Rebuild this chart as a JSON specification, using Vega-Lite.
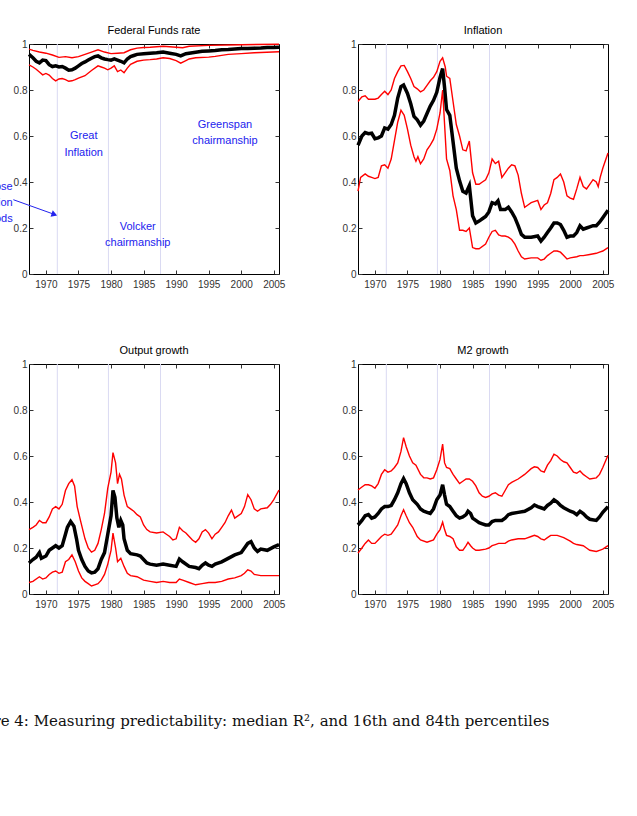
{
"$schema":"https://vega.github.io/schema/vega-lite/v6.json",
"autosize":{"type":"none"},
"padding":{"left":29,"top":44,"right":608,"bottom":772},
"background":"white",
"title":{"text":"Figure 4: Measuring predictability: median R², and 16th and 84th percentiles","orient":"bottom","anchor":"start","frame":"group","font":"DejaVu Serif","fontSize":15,"fontWeight":"normal","color":"#111","dx":-70,"offset":116,"baseline":"alphabetic"},
"datasets":{
"ffr":[
{"s":"m","x":1967.4,"y":0.955},{"s":"m","x":1968,"y":0.94},{"s":"m","x":1968.5,"y":0.925},{"s":"m","x":1969,"y":0.918},{"s":"m","x":1969.5,"y":0.93},{"s":"m","x":1970,"y":0.928},{"s":"m","x":1970.5,"y":0.91},{"s":"m","x":1971,"y":0.902},{"s":"m","x":1971.5,"y":0.905},{"s":"m","x":1972,"y":0.9},{"s":"m","x":1972.5,"y":0.902},{"s":"m","x":1973,"y":0.895},{"s":"m","x":1973.5,"y":0.886},{"s":"m","x":1974,"y":0.888},{"s":"m","x":1974.5,"y":0.895},{"s":"m","x":1975,"y":0.905},{"s":"m","x":1975.5,"y":0.915},{"s":"m","x":1976,"y":0.922},{"s":"m","x":1976.5,"y":0.93},{"s":"m","x":1977,"y":0.938},{"s":"m","x":1977.5,"y":0.945},{"s":"m","x":1978,"y":0.948},{"s":"m","x":1978.5,"y":0.94},{"s":"m","x":1979,"y":0.935},{"s":"m","x":1979.5,"y":0.932},{"s":"m","x":1980,"y":0.93},{"s":"m","x":1980.5,"y":0.935},{"s":"m","x":1981,"y":0.93},{"s":"m","x":1981.5,"y":0.925},{"s":"m","x":1982,"y":0.918},{"s":"m","x":1982.5,"y":0.935},{"s":"m","x":1983,"y":0.945},{"s":"m","x":1983.5,"y":0.95},{"s":"m","x":1984,"y":0.955},{"s":"m","x":1985,"y":0.958},{"s":"m","x":1986,"y":0.96},{"s":"m","x":1987,"y":0.962},{"s":"m","x":1988,"y":0.965},{"s":"m","x":1989,"y":0.96},{"s":"m","x":1990,"y":0.955},{"s":"m","x":1990.7,"y":0.948},{"s":"m","x":1991.5,"y":0.958},{"s":"m","x":1992.5,"y":0.962},{"s":"m","x":1994,"y":0.968},{"s":"m","x":1995,"y":0.97},{"s":"m","x":1996,"y":0.972},{"s":"m","x":1997,"y":0.975},{"s":"m","x":1998,"y":0.976},{"s":"m","x":1999,"y":0.978},{"s":"m","x":2000,"y":0.98},{"s":"m","x":2001,"y":0.98},{"s":"m","x":2002,"y":0.982},{"s":"m","x":2003,"y":0.983},{"s":"m","x":2004,"y":0.985},{"s":"m","x":2005,"y":0.985},{"s":"m","x":2005.8,"y":0.986},
{"s":"h","x":1967.4,"y":0.978},{"s":"h","x":1968,"y":0.972},{"s":"h","x":1969,"y":0.965},{"s":"h","x":1970,"y":0.96},{"s":"h","x":1971,"y":0.952},{"s":"h","x":1972,"y":0.942},{"s":"h","x":1973,"y":0.945},{"s":"h","x":1974,"y":0.94},{"s":"h","x":1975,"y":0.945},{"s":"h","x":1976,"y":0.955},{"s":"h","x":1977,"y":0.965},{"s":"h","x":1978,"y":0.975},{"s":"h","x":1979,"y":0.965},{"s":"h","x":1980,"y":0.958},{"s":"h","x":1981,"y":0.96},{"s":"h","x":1982,"y":0.962},{"s":"h","x":1983,"y":0.975},{"s":"h","x":1984,"y":0.982},{"s":"h","x":1985,"y":0.985},{"s":"h","x":1986,"y":0.986},{"s":"h","x":1988,"y":0.99},{"s":"h","x":1990,"y":0.986},{"s":"h","x":1991,"y":0.984},{"s":"h","x":1992,"y":0.99},{"s":"h","x":1995,"y":0.994},{"s":"h","x":2000,"y":0.997},{"s":"h","x":2005.8,"y":0.999},
{"s":"l","x":1967.4,"y":0.909},{"s":"l","x":1968,"y":0.9},{"s":"l","x":1968.5,"y":0.89},{"s":"l","x":1969,"y":0.878},{"s":"l","x":1969.5,"y":0.866},{"s":"l","x":1970,"y":0.872},{"s":"l","x":1970.5,"y":0.865},{"s":"l","x":1971,"y":0.85},{"s":"l","x":1971.5,"y":0.84},{"s":"l","x":1972,"y":0.848},{"s":"l","x":1972.5,"y":0.85},{"s":"l","x":1973,"y":0.845},{"s":"l","x":1973.5,"y":0.838},{"s":"l","x":1974,"y":0.84},{"s":"l","x":1974.5,"y":0.845},{"s":"l","x":1975,"y":0.852},{"s":"l","x":1976,"y":0.862},{"s":"l","x":1977,"y":0.885},{"s":"l","x":1978,"y":0.905},{"s":"l","x":1978.5,"y":0.9},{"s":"l","x":1979,"y":0.895},{"s":"l","x":1979.5,"y":0.888},{"s":"l","x":1980,"y":0.895},{"s":"l","x":1980.5,"y":0.905},{"s":"l","x":1981,"y":0.88},{"s":"l","x":1981.5,"y":0.887},{"s":"l","x":1982,"y":0.875},{"s":"l","x":1982.5,"y":0.895},{"s":"l","x":1983,"y":0.912},{"s":"l","x":1984,"y":0.925},{"s":"l","x":1985,"y":0.93},{"s":"l","x":1986,"y":0.932},{"s":"l","x":1987,"y":0.935},{"s":"l","x":1988,"y":0.94},{"s":"l","x":1989,"y":0.937},{"s":"l","x":1990,"y":0.928},{"s":"l","x":1990.7,"y":0.917},{"s":"l","x":1991.5,"y":0.928},{"s":"l","x":1992,"y":0.935},{"s":"l","x":1993,"y":0.94},{"s":"l","x":1995,"y":0.943},{"s":"l","x":1996,"y":0.946},{"s":"l","x":1998,"y":0.955},{"s":"l","x":2000,"y":0.958},{"s":"l","x":2002,"y":0.962},{"s":"l","x":2005.8,"y":0.966}
],
"inf":[
{"s":"m","x":1967.4,"y":0.56},{"s":"m","x":1968,"y":0.6},{"s":"m","x":1968.5,"y":0.615},{"s":"m","x":1969,"y":0.61},{"s":"m","x":1969.5,"y":0.612},{"s":"m","x":1970,"y":0.588},{"s":"m","x":1970.5,"y":0.592},{"s":"m","x":1971,"y":0.6},{"s":"m","x":1971.5,"y":0.635},{"s":"m","x":1972,"y":0.63},{"s":"m","x":1972.5,"y":0.65},{"s":"m","x":1973,"y":0.69},{"s":"m","x":1973.5,"y":0.765},{"s":"m","x":1974,"y":0.815},{"s":"m","x":1974.4,"y":0.822},{"s":"m","x":1975,"y":0.785},{"s":"m","x":1975.5,"y":0.74},{"s":"m","x":1976,"y":0.685},{"s":"m","x":1976.5,"y":0.67},{"s":"m","x":1977,"y":0.647},{"s":"m","x":1977.5,"y":0.665},{"s":"m","x":1978,"y":0.698},{"s":"m","x":1978.5,"y":0.73},{"s":"m","x":1979,"y":0.755},{"s":"m","x":1979.5,"y":0.79},{"s":"m","x":1980,"y":0.855},{"s":"m","x":1980.4,"y":0.893},{"s":"m","x":1980.7,"y":0.81},{"s":"m","x":1981,"y":0.715},{"s":"m","x":1981.5,"y":0.69},{"s":"m","x":1982,"y":0.575},{"s":"m","x":1982.5,"y":0.46},{"s":"m","x":1983,"y":0.405},{"s":"m","x":1983.5,"y":0.36},{"s":"m","x":1984,"y":0.352},{"s":"m","x":1984.5,"y":0.384},{"s":"m","x":1985,"y":0.253},{"s":"m","x":1985.5,"y":0.222},{"s":"m","x":1986,"y":0.23},{"s":"m","x":1986.5,"y":0.24},{"s":"m","x":1987,"y":0.25},{"s":"m","x":1987.5,"y":0.27},{"s":"m","x":1988,"y":0.31},{"s":"m","x":1988.5,"y":0.305},{"s":"m","x":1988.9,"y":0.318},{"s":"m","x":1989.3,"y":0.28},{"s":"m","x":1990,"y":0.28},{"s":"m","x":1990.5,"y":0.29},{"s":"m","x":1991,"y":0.27},{"s":"m","x":1991.5,"y":0.245},{"s":"m","x":1992,"y":0.21},{"s":"m","x":1992.5,"y":0.172},{"s":"m","x":1993,"y":0.16},{"s":"m","x":1994,"y":0.16},{"s":"m","x":1995,"y":0.165},{"s":"m","x":1995.5,"y":0.143},{"s":"m","x":1996,"y":0.16},{"s":"m","x":1996.5,"y":0.18},{"s":"m","x":1997,"y":0.2},{"s":"m","x":1997.5,"y":0.222},{"s":"m","x":1998,"y":0.222},{"s":"m","x":1998.5,"y":0.215},{"s":"m","x":1999,"y":0.19},{"s":"m","x":1999.5,"y":0.16},{"s":"m","x":2000,"y":0.165},{"s":"m","x":2000.5,"y":0.165},{"s":"m","x":2001,"y":0.18},{"s":"m","x":2001.5,"y":0.21},{"s":"m","x":2002,"y":0.195},{"s":"m","x":2002.5,"y":0.2},{"s":"m","x":2003,"y":0.205},{"s":"m","x":2003.5,"y":0.21},{"s":"m","x":2004,"y":0.21},{"s":"m","x":2004.5,"y":0.225},{"s":"m","x":2005,"y":0.245},{"s":"m","x":2005.8,"y":0.277},
{"s":"h","x":1967.4,"y":0.75},{"s":"h","x":1968,"y":0.77},{"s":"h","x":1968.5,"y":0.775},{"s":"h","x":1969,"y":0.76},{"s":"h","x":1970,"y":0.76},{"s":"h","x":1970.5,"y":0.765},{"s":"h","x":1971,"y":0.78},{"s":"h","x":1971.5,"y":0.795},{"s":"h","x":1972,"y":0.78},{"s":"h","x":1972.5,"y":0.8},{"s":"h","x":1973,"y":0.85},{"s":"h","x":1973.5,"y":0.88},{"s":"h","x":1974,"y":0.905},{"s":"h","x":1974.5,"y":0.907},{"s":"h","x":1975,"y":0.88},{"s":"h","x":1975.5,"y":0.85},{"s":"h","x":1976,"y":0.815},{"s":"h","x":1976.5,"y":0.805},{"s":"h","x":1977,"y":0.792},{"s":"h","x":1977.5,"y":0.8},{"s":"h","x":1978,"y":0.82},{"s":"h","x":1978.5,"y":0.84},{"s":"h","x":1979,"y":0.855},{"s":"h","x":1979.5,"y":0.88},{"s":"h","x":1980,"y":0.925},{"s":"h","x":1980.4,"y":0.94},{"s":"h","x":1980.8,"y":0.9},{"s":"h","x":1981,"y":0.86},{"s":"h","x":1981.5,"y":0.85},{"s":"h","x":1982,"y":0.75},{"s":"h","x":1982.5,"y":0.65},{"s":"h","x":1983,"y":0.6},{"s":"h","x":1983.5,"y":0.54},{"s":"h","x":1984,"y":0.535},{"s":"h","x":1984.5,"y":0.578},{"s":"h","x":1985,"y":0.44},{"s":"h","x":1985.5,"y":0.39},{"s":"h","x":1986,"y":0.39},{"s":"h","x":1986.5,"y":0.4},{"s":"h","x":1987,"y":0.41},{"s":"h","x":1987.5,"y":0.44},{"s":"h","x":1988,"y":0.5},{"s":"h","x":1988.5,"y":0.48},{"s":"h","x":1989,"y":0.49},{"s":"h","x":1989.5,"y":0.42},{"s":"h","x":1990,"y":0.44},{"s":"h","x":1990.5,"y":0.46},{"s":"h","x":1991,"y":0.475},{"s":"h","x":1991.5,"y":0.47},{"s":"h","x":1992,"y":0.43},{"s":"h","x":1992.5,"y":0.35},{"s":"h","x":1993,"y":0.29},{"s":"h","x":1993.5,"y":0.3},{"s":"h","x":1994,"y":0.31},{"s":"h","x":1995,"y":0.32},{"s":"h","x":1995.5,"y":0.28},{"s":"h","x":1996,"y":0.3},{"s":"h","x":1996.5,"y":0.31},{"s":"h","x":1997,"y":0.35},{"s":"h","x":1997.5,"y":0.41},{"s":"h","x":1998,"y":0.42},{"s":"h","x":1998.5,"y":0.435},{"s":"h","x":1999,"y":0.4},{"s":"h","x":1999.5,"y":0.34},{"s":"h","x":2000,"y":0.33},{"s":"h","x":2000.5,"y":0.325},{"s":"h","x":2001,"y":0.37},{"s":"h","x":2001.5,"y":0.42},{"s":"h","x":2002,"y":0.38},{"s":"h","x":2002.5,"y":0.37},{"s":"h","x":2003,"y":0.39},{"s":"h","x":2003.5,"y":0.41},{"s":"h","x":2004,"y":0.4},{"s":"h","x":2004.3,"y":0.38},{"s":"h","x":2004.6,"y":0.42},{"s":"h","x":2005,"y":0.46},{"s":"h","x":2005.8,"y":0.526},
{"s":"l","x":1967.4,"y":0.36},{"s":"l","x":1967.8,"y":0.42},{"s":"l","x":1968.5,"y":0.435},{"s":"l","x":1969,"y":0.425},{"s":"l","x":1969.5,"y":0.42},{"s":"l","x":1970,"y":0.415},{"s":"l","x":1970.5,"y":0.42},{"s":"l","x":1971,"y":0.47},{"s":"l","x":1971.5,"y":0.475},{"s":"l","x":1972,"y":0.46},{"s":"l","x":1972.5,"y":0.5},{"s":"l","x":1973,"y":0.58},{"s":"l","x":1973.5,"y":0.66},{"s":"l","x":1974,"y":0.712},{"s":"l","x":1974.5,"y":0.69},{"s":"l","x":1975,"y":0.63},{"s":"l","x":1975.5,"y":0.56},{"s":"l","x":1976,"y":0.51},{"s":"l","x":1976.3,"y":0.49},{"s":"l","x":1976.6,"y":0.51},{"s":"l","x":1977,"y":0.479},{"s":"l","x":1977.5,"y":0.5},{"s":"l","x":1978,"y":0.54},{"s":"l","x":1978.5,"y":0.56},{"s":"l","x":1979,"y":0.585},{"s":"l","x":1979.5,"y":0.63},{"s":"l","x":1980,"y":0.7},{"s":"l","x":1980.4,"y":0.8},{"s":"l","x":1980.7,"y":0.65},{"s":"l","x":1981,"y":0.5},{"s":"l","x":1981.5,"y":0.45},{"s":"l","x":1982,"y":0.34},{"s":"l","x":1982.5,"y":0.28},{"s":"l","x":1983,"y":0.19},{"s":"l","x":1983.5,"y":0.19},{"s":"l","x":1984,"y":0.185},{"s":"l","x":1984.5,"y":0.2},{"s":"l","x":1985,"y":0.115},{"s":"l","x":1985.5,"y":0.11},{"s":"l","x":1986,"y":0.11},{"s":"l","x":1987,"y":0.13},{"s":"l","x":1987.5,"y":0.16},{"s":"l","x":1988,"y":0.185},{"s":"l","x":1988.5,"y":0.19},{"s":"l","x":1989,"y":0.17},{"s":"l","x":1989.5,"y":0.165},{"s":"l","x":1990,"y":0.165},{"s":"l","x":1990.5,"y":0.16},{"s":"l","x":1991,"y":0.15},{"s":"l","x":1991.5,"y":0.13},{"s":"l","x":1992,"y":0.1},{"s":"l","x":1992.5,"y":0.075},{"s":"l","x":1993,"y":0.065},{"s":"l","x":1994,"y":0.07},{"s":"l","x":1995,"y":0.07},{"s":"l","x":1995.5,"y":0.06},{"s":"l","x":1996,"y":0.065},{"s":"l","x":1996.5,"y":0.08},{"s":"l","x":1997,"y":0.09},{"s":"l","x":1997.5,"y":0.1},{"s":"l","x":1998,"y":0.1},{"s":"l","x":1998.5,"y":0.095},{"s":"l","x":1999,"y":0.08},{"s":"l","x":1999.5,"y":0.065},{"s":"l","x":2000,"y":0.07},{"s":"l","x":2001,"y":0.075},{"s":"l","x":2001.5,"y":0.08},{"s":"l","x":2002,"y":0.08},{"s":"l","x":2003,"y":0.085},{"s":"l","x":2004,"y":0.09},{"s":"l","x":2004.5,"y":0.095},{"s":"l","x":2005,"y":0.1},{"s":"l","x":2005.8,"y":0.115}
],
"out":[
{"s":"m","x":1967.4,"y":0.135},{"s":"m","x":1968,"y":0.15},{"s":"m","x":1968.5,"y":0.16},{"s":"m","x":1969,"y":0.18},{"s":"m","x":1969.3,"y":0.155},{"s":"m","x":1970,"y":0.165},{"s":"m","x":1970.5,"y":0.19},{"s":"m","x":1971,"y":0.2},{"s":"m","x":1971.5,"y":0.21},{"s":"m","x":1972,"y":0.2},{"s":"m","x":1972.5,"y":0.21},{"s":"m","x":1973,"y":0.26},{"s":"m","x":1973.3,"y":0.29},{"s":"m","x":1973.8,"y":0.315},{"s":"m","x":1974.3,"y":0.295},{"s":"m","x":1974.7,"y":0.24},{"s":"m","x":1975,"y":0.19},{"s":"m","x":1975.5,"y":0.15},{"s":"m","x":1976,"y":0.12},{"s":"m","x":1976.5,"y":0.1},{"s":"m","x":1977,"y":0.092},{"s":"m","x":1977.5,"y":0.095},{"s":"m","x":1978,"y":0.11},{"s":"m","x":1978.5,"y":0.15},{"s":"m","x":1979,"y":0.18},{"s":"m","x":1979.5,"y":0.26},{"s":"m","x":1980,"y":0.34},{"s":"m","x":1980.3,"y":0.45},{"s":"m","x":1980.6,"y":0.42},{"s":"m","x":1980.9,"y":0.33},{"s":"m","x":1981.2,"y":0.29},{"s":"m","x":1981.5,"y":0.32},{"s":"m","x":1981.8,"y":0.3},{"s":"m","x":1982,"y":0.24},{"s":"m","x":1982.5,"y":0.19},{"s":"m","x":1983,"y":0.175},{"s":"m","x":1984,"y":0.17},{"s":"m","x":1984.5,"y":0.165},{"s":"m","x":1985,"y":0.15},{"s":"m","x":1985.5,"y":0.135},{"s":"m","x":1986,"y":0.13},{"s":"m","x":1987,"y":0.125},{"s":"m","x":1988,"y":0.13},{"s":"m","x":1989,"y":0.125},{"s":"m","x":1990,"y":0.12},{"s":"m","x":1990.5,"y":0.152},{"s":"m","x":1991,"y":0.14},{"s":"m","x":1992,"y":0.12},{"s":"m","x":1993,"y":0.115},{"s":"m","x":1993.5,"y":0.11},{"s":"m","x":1994,"y":0.125},{"s":"m","x":1994.5,"y":0.135},{"s":"m","x":1995,"y":0.125},{"s":"m","x":1995.5,"y":0.12},{"s":"m","x":1996,"y":0.13},{"s":"m","x":1997,"y":0.14},{"s":"m","x":1998,"y":0.155},{"s":"m","x":1999,"y":0.17},{"s":"m","x":2000,"y":0.18},{"s":"m","x":2000.5,"y":0.2},{"s":"m","x":2001,"y":0.22},{"s":"m","x":2001.5,"y":0.228},{"s":"m","x":2002,"y":0.2},{"s":"m","x":2002.5,"y":0.185},{"s":"m","x":2003,"y":0.195},{"s":"m","x":2004,"y":0.19},{"s":"m","x":2005,"y":0.205},{"s":"m","x":2005.8,"y":0.215},
{"s":"h","x":1967.4,"y":0.28},{"s":"h","x":1968,"y":0.29},{"s":"h","x":1968.5,"y":0.3},{"s":"h","x":1969,"y":0.32},{"s":"h","x":1969.5,"y":0.31},{"s":"h","x":1970,"y":0.31},{"s":"h","x":1970.5,"y":0.335},{"s":"h","x":1971,"y":0.37},{"s":"h","x":1971.5,"y":0.38},{"s":"h","x":1972,"y":0.37},{"s":"h","x":1972.5,"y":0.39},{"s":"h","x":1973,"y":0.45},{"s":"h","x":1973.5,"y":0.48},{"s":"h","x":1974,"y":0.497},{"s":"h","x":1974.4,"y":0.47},{"s":"h","x":1974.8,"y":0.38},{"s":"h","x":1975.3,"y":0.32},{"s":"h","x":1976,"y":0.24},{"s":"h","x":1976.5,"y":0.2},{"s":"h","x":1977,"y":0.182},{"s":"h","x":1977.5,"y":0.19},{"s":"h","x":1978,"y":0.22},{"s":"h","x":1978.5,"y":0.28},{"s":"h","x":1979,"y":0.35},{"s":"h","x":1979.5,"y":0.46},{"s":"h","x":1980,"y":0.53},{"s":"h","x":1980.3,"y":0.615},{"s":"h","x":1980.7,"y":0.57},{"s":"h","x":1981,"y":0.48},{"s":"h","x":1981.3,"y":0.52},{"s":"h","x":1981.6,"y":0.5},{"s":"h","x":1982,"y":0.43},{"s":"h","x":1982.5,"y":0.38},{"s":"h","x":1983,"y":0.37},{"s":"h","x":1983.5,"y":0.36},{"s":"h","x":1984,"y":0.345},{"s":"h","x":1984.5,"y":0.335},{"s":"h","x":1985,"y":0.3},{"s":"h","x":1985.5,"y":0.28},{"s":"h","x":1986,"y":0.27},{"s":"h","x":1987,"y":0.265},{"s":"h","x":1988,"y":0.27},{"s":"h","x":1988.5,"y":0.26},{"s":"h","x":1989,"y":0.25},{"s":"h","x":1989.5,"y":0.235},{"s":"h","x":1990,"y":0.24},{"s":"h","x":1990.5,"y":0.29},{"s":"h","x":1991,"y":0.275},{"s":"h","x":1991.5,"y":0.265},{"s":"h","x":1992,"y":0.25},{"s":"h","x":1992.5,"y":0.235},{"s":"h","x":1993,"y":0.225},{"s":"h","x":1993.5,"y":0.24},{"s":"h","x":1994,"y":0.27},{"s":"h","x":1994.5,"y":0.28},{"s":"h","x":1995,"y":0.265},{"s":"h","x":1995.5,"y":0.24},{"s":"h","x":1996,"y":0.26},{"s":"h","x":1996.5,"y":0.27},{"s":"h","x":1997,"y":0.29},{"s":"h","x":1997.5,"y":0.31},{"s":"h","x":1998,"y":0.34},{"s":"h","x":1998.5,"y":0.365},{"s":"h","x":1999,"y":0.33},{"s":"h","x":2000,"y":0.35},{"s":"h","x":2000.5,"y":0.38},{"s":"h","x":2001,"y":0.432},{"s":"h","x":2001.5,"y":0.41},{"s":"h","x":2002,"y":0.37},{"s":"h","x":2002.5,"y":0.36},{"s":"h","x":2003,"y":0.37},{"s":"h","x":2004,"y":0.375},{"s":"h","x":2004.5,"y":0.39},{"s":"h","x":2005,"y":0.41},{"s":"h","x":2005.8,"y":0.452},
{"s":"l","x":1967.4,"y":0.05},{"s":"l","x":1968,"y":0.055},{"s":"l","x":1969,"y":0.075},{"s":"l","x":1969.5,"y":0.065},{"s":"l","x":1970,"y":0.07},{"s":"l","x":1970.5,"y":0.085},{"s":"l","x":1971,"y":0.095},{"s":"l","x":1971.5,"y":0.1},{"s":"l","x":1972,"y":0.09},{"s":"l","x":1972.5,"y":0.095},{"s":"l","x":1973,"y":0.14},{"s":"l","x":1973.5,"y":0.15},{"s":"l","x":1974,"y":0.17},{"s":"l","x":1974.5,"y":0.14},{"s":"l","x":1975,"y":0.1},{"s":"l","x":1975.5,"y":0.07},{"s":"l","x":1976,"y":0.055},{"s":"l","x":1976.5,"y":0.045},{"s":"l","x":1977,"y":0.035},{"s":"l","x":1977.5,"y":0.04},{"s":"l","x":1978,"y":0.045},{"s":"l","x":1978.5,"y":0.06},{"s":"l","x":1979,"y":0.085},{"s":"l","x":1979.5,"y":0.13},{"s":"l","x":1980,"y":0.19},{"s":"l","x":1980.3,"y":0.265},{"s":"l","x":1980.7,"y":0.2},{"s":"l","x":1981,"y":0.14},{"s":"l","x":1981.5,"y":0.155},{"s":"l","x":1982,"y":0.12},{"s":"l","x":1982.5,"y":0.09},{"s":"l","x":1983,"y":0.08},{"s":"l","x":1984,"y":0.075},{"s":"l","x":1985,"y":0.06},{"s":"l","x":1986,"y":0.055},{"s":"l","x":1987,"y":0.05},{"s":"l","x":1988,"y":0.055},{"s":"l","x":1989,"y":0.05},{"s":"l","x":1990,"y":0.05},{"s":"l","x":1990.5,"y":0.065},{"s":"l","x":1991,"y":0.06},{"s":"l","x":1992,"y":0.05},{"s":"l","x":1993,"y":0.04},{"s":"l","x":1994,"y":0.045},{"s":"l","x":1995,"y":0.05},{"s":"l","x":1996,"y":0.05},{"s":"l","x":1997,"y":0.055},{"s":"l","x":1998,"y":0.065},{"s":"l","x":1999,"y":0.07},{"s":"l","x":2000,"y":0.08},{"s":"l","x":2000.5,"y":0.09},{"s":"l","x":2001,"y":0.105},{"s":"l","x":2001.5,"y":0.1},{"s":"l","x":2002,"y":0.085},{"s":"l","x":2003,"y":0.08},{"s":"l","x":2004,"y":0.08},{"s":"l","x":2005,"y":0.08},{"s":"l","x":2005.8,"y":0.08}
],
"m2":[
{"s":"m","x":1967.4,"y":0.3},{"s":"m","x":1968,"y":0.32},{"s":"m","x":1968.5,"y":0.34},{"s":"m","x":1969,"y":0.345},{"s":"m","x":1969.5,"y":0.33},{"s":"m","x":1970,"y":0.335},{"s":"m","x":1970.5,"y":0.35},{"s":"m","x":1971,"y":0.37},{"s":"m","x":1971.5,"y":0.38},{"s":"m","x":1972,"y":0.38},{"s":"m","x":1972.5,"y":0.385},{"s":"m","x":1973,"y":0.41},{"s":"m","x":1973.5,"y":0.44},{"s":"m","x":1974,"y":0.48},{"s":"m","x":1974.4,"y":0.502},{"s":"m","x":1974.8,"y":0.48},{"s":"m","x":1975.3,"y":0.44},{"s":"m","x":1975.8,"y":0.41},{"s":"m","x":1976.5,"y":0.39},{"s":"m","x":1977,"y":0.37},{"s":"m","x":1977.5,"y":0.36},{"s":"m","x":1978,"y":0.355},{"s":"m","x":1978.5,"y":0.35},{"s":"m","x":1979,"y":0.37},{"s":"m","x":1979.5,"y":0.41},{"s":"m","x":1980,"y":0.43},{"s":"m","x":1980.4,"y":0.475},{"s":"m","x":1980.7,"y":0.43},{"s":"m","x":1981,"y":0.39},{"s":"m","x":1981.5,"y":0.38},{"s":"m","x":1982,"y":0.36},{"s":"m","x":1982.5,"y":0.34},{"s":"m","x":1983,"y":0.33},{"s":"m","x":1983.5,"y":0.335},{"s":"m","x":1984,"y":0.345},{"s":"m","x":1984.3,"y":0.36},{"s":"m","x":1984.7,"y":0.35},{"s":"m","x":1985,"y":0.33},{"s":"m","x":1985.5,"y":0.32},{"s":"m","x":1986,"y":0.31},{"s":"m","x":1986.5,"y":0.305},{"s":"m","x":1987,"y":0.3},{"s":"m","x":1987.5,"y":0.3},{"s":"m","x":1988,"y":0.315},{"s":"m","x":1988.5,"y":0.32},{"s":"m","x":1989,"y":0.32},{"s":"m","x":1989.5,"y":0.32},{"s":"m","x":1990,"y":0.33},{"s":"m","x":1990.5,"y":0.345},{"s":"m","x":1991,"y":0.35},{"s":"m","x":1992,"y":0.355},{"s":"m","x":1993,"y":0.36},{"s":"m","x":1994,"y":0.375},{"s":"m","x":1994.5,"y":0.387},{"s":"m","x":1995,"y":0.38},{"s":"m","x":1995.5,"y":0.375},{"s":"m","x":1996,"y":0.37},{"s":"m","x":1996.5,"y":0.385},{"s":"m","x":1997,"y":0.395},{"s":"m","x":1997.5,"y":0.41},{"s":"m","x":1998,"y":0.4},{"s":"m","x":1998.5,"y":0.385},{"s":"m","x":1999,"y":0.375},{"s":"m","x":2000,"y":0.36},{"s":"m","x":2000.5,"y":0.355},{"s":"m","x":2001,"y":0.345},{"s":"m","x":2001.5,"y":0.36},{"s":"m","x":2002,"y":0.35},{"s":"m","x":2002.5,"y":0.335},{"s":"m","x":2003,"y":0.325},{"s":"m","x":2004,"y":0.32},{"s":"m","x":2004.5,"y":0.335},{"s":"m","x":2005,"y":0.355},{"s":"m","x":2005.8,"y":0.38},
{"s":"h","x":1967.4,"y":0.452},{"s":"h","x":1968,"y":0.465},{"s":"h","x":1968.5,"y":0.475},{"s":"h","x":1969,"y":0.475},{"s":"h","x":1969.5,"y":0.47},{"s":"h","x":1970,"y":0.46},{"s":"h","x":1970.5,"y":0.48},{"s":"h","x":1971,"y":0.52},{"s":"h","x":1971.5,"y":0.54},{"s":"h","x":1972,"y":0.53},{"s":"h","x":1972.5,"y":0.535},{"s":"h","x":1973,"y":0.55},{"s":"h","x":1973.5,"y":0.57},{"s":"h","x":1974,"y":0.62},{"s":"h","x":1974.4,"y":0.68},{"s":"h","x":1974.8,"y":0.64},{"s":"h","x":1975.3,"y":0.6},{"s":"h","x":1975.8,"y":0.57},{"s":"h","x":1976.3,"y":0.56},{"s":"h","x":1977,"y":0.52},{"s":"h","x":1977.5,"y":0.505},{"s":"h","x":1978,"y":0.505},{"s":"h","x":1978.5,"y":0.5},{"s":"h","x":1979,"y":0.505},{"s":"h","x":1979.5,"y":0.54},{"s":"h","x":1980,"y":0.585},{"s":"h","x":1980.4,"y":0.652},{"s":"h","x":1980.7,"y":0.57},{"s":"h","x":1981,"y":0.55},{"s":"h","x":1981.5,"y":0.545},{"s":"h","x":1982,"y":0.52},{"s":"h","x":1982.5,"y":0.5},{"s":"h","x":1983,"y":0.48},{"s":"h","x":1983.5,"y":0.49},{"s":"h","x":1984,"y":0.5},{"s":"h","x":1984.5,"y":0.5},{"s":"h","x":1985,"y":0.49},{"s":"h","x":1985.5,"y":0.47},{"s":"h","x":1986,"y":0.44},{"s":"h","x":1986.5,"y":0.425},{"s":"h","x":1987,"y":0.42},{"s":"h","x":1987.5,"y":0.425},{"s":"h","x":1988,"y":0.435},{"s":"h","x":1988.5,"y":0.44},{"s":"h","x":1989,"y":0.43},{"s":"h","x":1989.5,"y":0.425},{"s":"h","x":1990,"y":0.45},{"s":"h","x":1990.5,"y":0.475},{"s":"h","x":1991,"y":0.485},{"s":"h","x":1992,"y":0.5},{"s":"h","x":1993,"y":0.52},{"s":"h","x":1994,"y":0.545},{"s":"h","x":1994.5,"y":0.553},{"s":"h","x":1995,"y":0.55},{"s":"h","x":1995.5,"y":0.535},{"s":"h","x":1996,"y":0.53},{"s":"h","x":1996.5,"y":0.56},{"s":"h","x":1997,"y":0.58},{"s":"h","x":1997.5,"y":0.608},{"s":"h","x":1998,"y":0.6},{"s":"h","x":1998.5,"y":0.585},{"s":"h","x":1999,"y":0.575},{"s":"h","x":1999.5,"y":0.57},{"s":"h","x":2000,"y":0.55},{"s":"h","x":2000.5,"y":0.53},{"s":"h","x":2001,"y":0.525},{"s":"h","x":2001.5,"y":0.535},{"s":"h","x":2002,"y":0.52},{"s":"h","x":2002.5,"y":0.51},{"s":"h","x":2003,"y":0.5},{"s":"h","x":2004,"y":0.505},{"s":"h","x":2004.5,"y":0.52},{"s":"h","x":2005,"y":0.55},{"s":"h","x":2005.8,"y":0.603},
{"s":"l","x":1967.4,"y":0.178},{"s":"l","x":1968,"y":0.2},{"s":"l","x":1968.5,"y":0.22},{"s":"l","x":1969,"y":0.235},{"s":"l","x":1969.5,"y":0.22},{"s":"l","x":1970,"y":0.22},{"s":"l","x":1970.5,"y":0.235},{"s":"l","x":1971,"y":0.25},{"s":"l","x":1971.5,"y":0.26},{"s":"l","x":1972,"y":0.255},{"s":"l","x":1972.5,"y":0.26},{"s":"l","x":1973,"y":0.28},{"s":"l","x":1973.5,"y":0.3},{"s":"l","x":1974,"y":0.34},{"s":"l","x":1974.4,"y":0.366},{"s":"l","x":1974.8,"y":0.34},{"s":"l","x":1975.3,"y":0.31},{"s":"l","x":1975.8,"y":0.29},{"s":"l","x":1976.5,"y":0.25},{"s":"l","x":1977,"y":0.235},{"s":"l","x":1978,"y":0.225},{"s":"l","x":1979,"y":0.235},{"s":"l","x":1979.5,"y":0.26},{"s":"l","x":1980,"y":0.28},{"s":"l","x":1980.4,"y":0.312},{"s":"l","x":1980.7,"y":0.28},{"s":"l","x":1981,"y":0.255},{"s":"l","x":1981.5,"y":0.25},{"s":"l","x":1982,"y":0.24},{"s":"l","x":1982.5,"y":0.205},{"s":"l","x":1983,"y":0.19},{"s":"l","x":1983.5,"y":0.19},{"s":"l","x":1984,"y":0.21},{"s":"l","x":1984.3,"y":0.225},{"s":"l","x":1984.7,"y":0.21},{"s":"l","x":1985,"y":0.2},{"s":"l","x":1985.5,"y":0.19},{"s":"l","x":1986,"y":0.19},{"s":"l","x":1987,"y":0.195},{"s":"l","x":1987.5,"y":0.2},{"s":"l","x":1988,"y":0.21},{"s":"l","x":1988.5,"y":0.215},{"s":"l","x":1989,"y":0.22},{"s":"l","x":1990,"y":0.22},{"s":"l","x":1990.5,"y":0.23},{"s":"l","x":1991,"y":0.235},{"s":"l","x":1992,"y":0.24},{"s":"l","x":1993,"y":0.24},{"s":"l","x":1994,"y":0.25},{"s":"l","x":1994.5,"y":0.255},{"s":"l","x":1995,"y":0.25},{"s":"l","x":1995.5,"y":0.24},{"s":"l","x":1996,"y":0.235},{"s":"l","x":1996.5,"y":0.245},{"s":"l","x":1997,"y":0.255},{"s":"l","x":1998,"y":0.255},{"s":"l","x":1999,"y":0.245},{"s":"l","x":2000,"y":0.23},{"s":"l","x":2000.5,"y":0.22},{"s":"l","x":2001,"y":0.215},{"s":"l","x":2002,"y":0.21},{"s":"l","x":2002.5,"y":0.2},{"s":"l","x":2003,"y":0.19},{"s":"l","x":2004,"y":0.185},{"s":"l","x":2004.5,"y":0.19},{"s":"l","x":2005,"y":0.195},{"s":"l","x":2005.8,"y":0.21}
],
"eras":[{"x":1971.75},{"x":1979.6},{"x":1987.6}]
},
"bounds":"flush",
"spacing":320,
"vconcat":[
{"bounds":"flush","spacing":79,"hconcat":[
{"width":250,"height":230,"title":"Federal Funds rate","data":{"name":"ffr"},"layer":[
{"data":{"name":"eras"},"mark":{"type":"rule","color":"#dadaf2","strokeWidth":1},"encoding":{"x":{"field":"x","type":"quantitative","scale":{"domain":[1967.4,2005.8],"nice":false,"zero":false},"axis":{"orient":"top","labels":false,"values":[1970,1975,1980,1985,1990,1995,2000,2005],"title":null}}}},
{"transform":[{"filter":"datum.s != 'm'"}],"mark":{"type":"line","color":"#ff0000","strokeWidth":1.4},"encoding":{"x":{"field":"x","type":"quantitative","axis":null},"y":{"field":"y","type":"quantitative","scale":{"domain":[0,1],"nice":false},"axis":{"orient":"right","labels":false,"values":[0,0.2,0.4,0.6,0.8,1],"title":null}},"detail":{"field":"s"}}},
{"transform":[{"filter":"datum.s == 'm'"}],"mark":{"type":"line","color":"#000000","strokeWidth":3.5},"encoding":{"x":{"field":"x","type":"quantitative","axis":{"orient":"bottom","values":[1970,1975,1980,1985,1990,1995,2000,2005],"format":"d","title":null,"labelPadding":9}},"y":{"field":"y","type":"quantitative","axis":{"orient":"left","values":[0,0.2,0.4,0.6,0.8,1],"format":"~g","title":null,"labelPadding":6}}}},
{"data":{"values":[{"x":1975.8,"y":0.598,"t":"Great"},{"x":1975.8,"y":0.528,"t":"Inflation"},{"x":1997.5,"y":0.65,"t":"Greenspan"},{"x":1997.5,"y":0.58,"t":"chairmanship"},{"x":1984.1,"y":0.205,"t":"Volcker"},{"x":1984.1,"y":0.135,"t":"chairmanship"}]},"mark":{"type":"text","color":"#2222ee","fontSize":11,"font":"Liberation Sans","align":"center","baseline":"middle"},"encoding":{"x":{"field":"x","type":"quantitative","axis":null},"y":{"field":"y","type":"quantitative","axis":null},"text":{"field":"t"}}},
{"data":{"values":[{"x":1964.9,"y":0.38,"t":"Those"},{"x":1964.9,"y":0.31,"t":"transition"},{"x":1964.9,"y":0.24,"t":"periods"}]},"mark":{"type":"text","color":"#2222ee","fontSize":11,"font":"Liberation Sans","align":"right","baseline":"middle"},"encoding":{"x":{"field":"x","type":"quantitative","axis":null},"y":{"field":"y","type":"quantitative","axis":null},"text":{"field":"t"}}},
{"data":{"values":[{"x":1965.0,"y":0.323,"x2":1971.5,"y2":0.257}]},"mark":{"type":"rule","color":"#2222ee","strokeWidth":1},"encoding":{"x":{"field":"x","type":"quantitative","axis":null},"y":{"field":"y","type":"quantitative","axis":null},"x2":{"field":"x2"},"y2":{"field":"y2"}}},
{"data":{"values":[{"x":1971.3,"y":0.259}]},"mark":{"type":"point","shape":"triangle-right","filled":true,"color":"#2222ee","size":45,"angle":19,"opacity":1},"encoding":{"x":{"field":"x","type":"quantitative","axis":null},"y":{"field":"y","type":"quantitative","axis":null}}}
]},
{"width":250,"height":230,"title":"Inflation","data":{"name":"inf"},"layer":[
{"data":{"name":"eras"},"mark":{"type":"rule","color":"#dadaf2","strokeWidth":1},"encoding":{"x":{"field":"x","type":"quantitative","scale":{"domain":[1967.4,2005.8],"nice":false,"zero":false},"axis":{"orient":"top","labels":false,"values":[1970,1975,1980,1985,1990,1995,2000,2005],"title":null}}}},
{"transform":[{"filter":"datum.s != 'm'"}],"mark":{"type":"line","color":"#ff0000","strokeWidth":1.4},"encoding":{"x":{"field":"x","type":"quantitative","axis":null},"y":{"field":"y","type":"quantitative","scale":{"domain":[0,1],"nice":false},"axis":{"orient":"right","labels":false,"values":[0,0.2,0.4,0.6,0.8,1],"title":null}},"detail":{"field":"s"}}},
{"transform":[{"filter":"datum.s == 'm'"}],"mark":{"type":"line","color":"#000000","strokeWidth":3.5},"encoding":{"x":{"field":"x","type":"quantitative","axis":{"orient":"bottom","values":[1970,1975,1980,1985,1990,1995,2000,2005],"format":"d","title":null,"labelPadding":9}},"y":{"field":"y","type":"quantitative","axis":{"orient":"left","values":[0,0.2,0.4,0.6,0.8,1],"format":"~g","title":null,"labelPadding":6}}}}
]}
]},
{"bounds":"flush","spacing":79,"hconcat":[
{"width":250,"height":230,"title":"Output growth","data":{"name":"out"},"layer":[
{"data":{"name":"eras"},"mark":{"type":"rule","color":"#dadaf2","strokeWidth":1},"encoding":{"x":{"field":"x","type":"quantitative","scale":{"domain":[1967.4,2005.8],"nice":false,"zero":false},"axis":{"orient":"top","labels":false,"values":[1970,1975,1980,1985,1990,1995,2000,2005],"title":null}}}},
{"transform":[{"filter":"datum.s != 'm'"}],"mark":{"type":"line","color":"#ff0000","strokeWidth":1.4},"encoding":{"x":{"field":"x","type":"quantitative","axis":null},"y":{"field":"y","type":"quantitative","scale":{"domain":[0,1],"nice":false},"axis":{"orient":"right","labels":false,"values":[0,0.2,0.4,0.6,0.8,1],"title":null}},"detail":{"field":"s"}}},
{"transform":[{"filter":"datum.s == 'm'"}],"mark":{"type":"line","color":"#000000","strokeWidth":3.5},"encoding":{"x":{"field":"x","type":"quantitative","axis":{"orient":"bottom","values":[1970,1975,1980,1985,1990,1995,2000,2005],"format":"d","title":null,"labelPadding":9}},"y":{"field":"y","type":"quantitative","axis":{"orient":"left","values":[0,0.2,0.4,0.6,0.8,1],"format":"~g","title":null,"labelPadding":6}}}}
]},
{"width":250,"height":230,"title":"M2 growth","data":{"name":"m2"},"layer":[
{"data":{"name":"eras"},"mark":{"type":"rule","color":"#dadaf2","strokeWidth":1},"encoding":{"x":{"field":"x","type":"quantitative","scale":{"domain":[1967.4,2005.8],"nice":false,"zero":false},"axis":{"orient":"top","labels":false,"values":[1970,1975,1980,1985,1990,1995,2000,2005],"title":null}}}},
{"transform":[{"filter":"datum.s != 'm'"}],"mark":{"type":"line","color":"#ff0000","strokeWidth":1.4},"encoding":{"x":{"field":"x","type":"quantitative","axis":null},"y":{"field":"y","type":"quantitative","scale":{"domain":[0,1],"nice":false},"axis":{"orient":"right","labels":false,"values":[0,0.2,0.4,0.6,0.8,1],"title":null}},"detail":{"field":"s"}}},
{"transform":[{"filter":"datum.s == 'm'"}],"mark":{"type":"line","color":"#000000","strokeWidth":3.5},"encoding":{"x":{"field":"x","type":"quantitative","axis":{"orient":"bottom","values":[1970,1975,1980,1985,1990,1995,2000,2005],"format":"d","title":null,"labelPadding":9}},"y":{"field":"y","type":"quantitative","axis":{"orient":"left","values":[0,0.2,0.4,0.6,0.8,1],"format":"~g","title":null,"labelPadding":6}}}}
]}
]}
],
"config":{
"font":"Liberation Sans",
"view":{"stroke":"#000000","strokeWidth":1},
"axis":{"labelFont":"Liberation Sans","labelFontSize":10,"labelColor":"#333333","tickColor":"#333333","tickSize":-4,"domain":false,"grid":false},
"title":{"font":"Liberation Sans","fontSize":11,"fontWeight":"normal","color":"#000000","offset":3}
}
}
